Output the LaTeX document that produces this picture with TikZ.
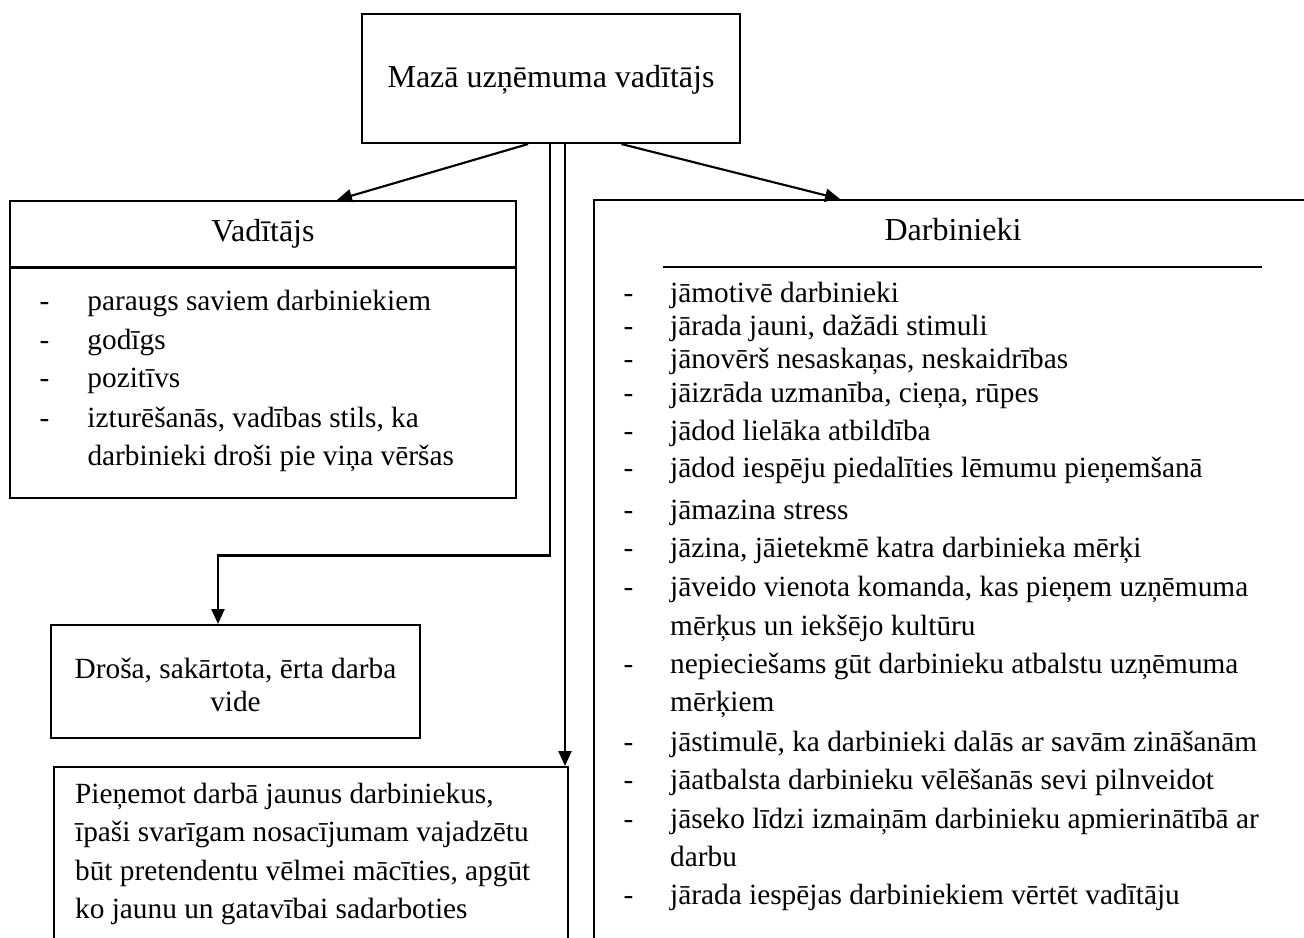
\documentclass[tikz,border=0pt]{standalone}
\usepackage{fontspec}
\setmainfont{Liberation Serif}
\usetikzlibrary{arrows.meta,fit,calc}
% hyphen bullet padded to a fixed width
\newcommand\dashto[1]{\makebox[#1][l]{-}}
\begin{document}
\begin{tikzpicture}[x=0.3752pt,y=-0.3752pt,
  box/.style={draw, line width=0.8pt, inner sep=0pt},
  conn/.style={draw, line width=0.8pt},
  arr/.style={conn, -{Triangle[length=5.6pt,width=4.9pt]}},
  title/.style={inner sep=0pt, anchor=base, font=\fontsize{12}{14}\selectfont},
  item/.style={inner sep=0pt, anchor=base west, font=\fontsize{11}{12.65}\selectfont},
  citem/.style={item, anchor=base},
]
\useasboundingbox (0,0) rectangle (1304,937);
\clip (0,0) rectangle (1304,937);

% helper coordinates for connector positions
\coordinate (xa) at (528,0);
\coordinate (xb) at (621.5,0);
\coordinate (xv1) at (550,0);
\coordinate (xv2) at (565,0);
\coordinate (ta) at (337,0);
\coordinate (tb) at (840,0);
\coordinate (e1) at (550,555.5);
\coordinate (e2) at (218,555.5);
\coordinate (vdiv) at (0,267.5);

% top box
\node[box, fit={(362,14) (740,143)}] (top) {};
\node[title] (toptxt) at (551,87.3) {Mazā uzņēmuma vadītājs};

% left box: Vadītājs
\node[box, fit={(10,201) (516,498)}] (vbox) {};
\draw[conn] (vbox.west |- vdiv) -- (vbox.east |- vdiv);
\node[title] (vtitle) at (263,241) {Vadītājs};
\node[item] (v1) at (39,310.7) {\dashto{18pt}paraugs saviem darbiniekiem};
\node[item] (v2) at (39,349) {\dashto{18pt}godīgs};
\node[item] (v3) at (39,387.7) {\dashto{18pt}pozitīvs};
\node[item] (v4) at (39,427.3) {\dashto{18pt}izturēšanās, vadības stils, ka};
\node[item] (v4b) at (87,465.3) {darbinieki droši pie viņa vēršas};

% right box: Darbinieki
\node[box, fit={(594,200) (1340,990)}] (dbox) {};
\node[title] (dtitle) at (953,240) {Darbinieki};
\draw[conn] (663,266.7) -- (1262,266.7);
\node[item] (d1) at (623,302) {\dashto{17.5pt}jāmotivē darbinieki};
\node[item] (d2) at (623,335.5) {\dashto{17.5pt}jārada jauni, dažādi stimuli};
\node[item] (d3) at (623,368.5) {\dashto{17.5pt}jānovērš nesaskaņas, neskaidrības};
\node[item] (d4) at (623,402) {\dashto{17.5pt}jāizrāda uzmanība, cieņa, rūpes};
\node[item] (d5) at (623,440.5) {\dashto{17.5pt}jādod lielāka atbildība};
\node[item] (d6) at (623,477) {\dashto{17.5pt}jādod iespēju piedalīties lēmumu pieņemšanā};
\node[item] (d7) at (623,519) {\dashto{17.5pt}jāmazina stress};
\node[item] (d8) at (623,557) {\dashto{17.5pt}jāzina, jāietekmē katra darbinieka mērķi};
\node[item] (d9) at (623,596.5) {\dashto{17.5pt}jāveido vienota komanda, kas pieņem uzņēmuma};
\node[item] (d9b) at (669.7,635) {mērķus un iekšējo kultūru};
\node[item] (d10) at (623,673.5) {\dashto{17.5pt}nepieciešams gūt darbinieku atbalstu uzņēmuma};
\node[item] (d10b) at (669.7,711) {mērķiem};
\node[item] (d11) at (623,751) {\dashto{17.5pt}jāstimulē, ka darbinieki dalās ar savām zināšanām};
\node[item] (d12) at (623,789.5) {\dashto{17.5pt}jāatbalsta darbinieku vēlēšanās sevi pilnveidot};
\node[item] (d13) at (623,828) {\dashto{17.5pt}jāseko līdzi izmaiņām darbinieku apmierinātībā ar};
\node[item] (d13b) at (669.7,866.5) {darbu};
\node[item] (d14) at (623,904.5) {\dashto{17.5pt}jārada iespējas darbiniekiem vērtēt vadītāju};

% work environment box
\node[box, fit={(51,625) (420,738)}] (drosa) {};
\node[citem] (dr1) at (235.5,678) {Droša, sakārtota, ērta darba};
\node[citem] (dr2) at (235.5,711.7) {vide};

% hiring box
\node[box, fit={(54,767) (568,995)}] (pien) {};
\node[item] (p1) at (74.6,803) {Pieņemot darbā jaunus darbiniekus,};
\node[item] (p2) at (74.6,841.7) {īpaši svarīgam nosacījumam vajadzētu};
\node[item] (p3) at (74.6,880) {būt pretendentu vēlmei mācīties, apgūt};
\node[item] (p4) at (74.6,918) {ko jaunu un gatavībai sadarboties};

% connectors
\draw[arr] (top.south -| xa) -- (vbox.north -| ta);
\draw[arr] (top.south -| xb) -- (dbox.north -| tb);
\draw[arr] (top.south -| xv1) -- (e1) -- (e2) -- (drosa.north -| e2);
\draw[arr] (top.south -| xv2) -- (pien.north -| xv2);
\end{tikzpicture}
\end{document}
